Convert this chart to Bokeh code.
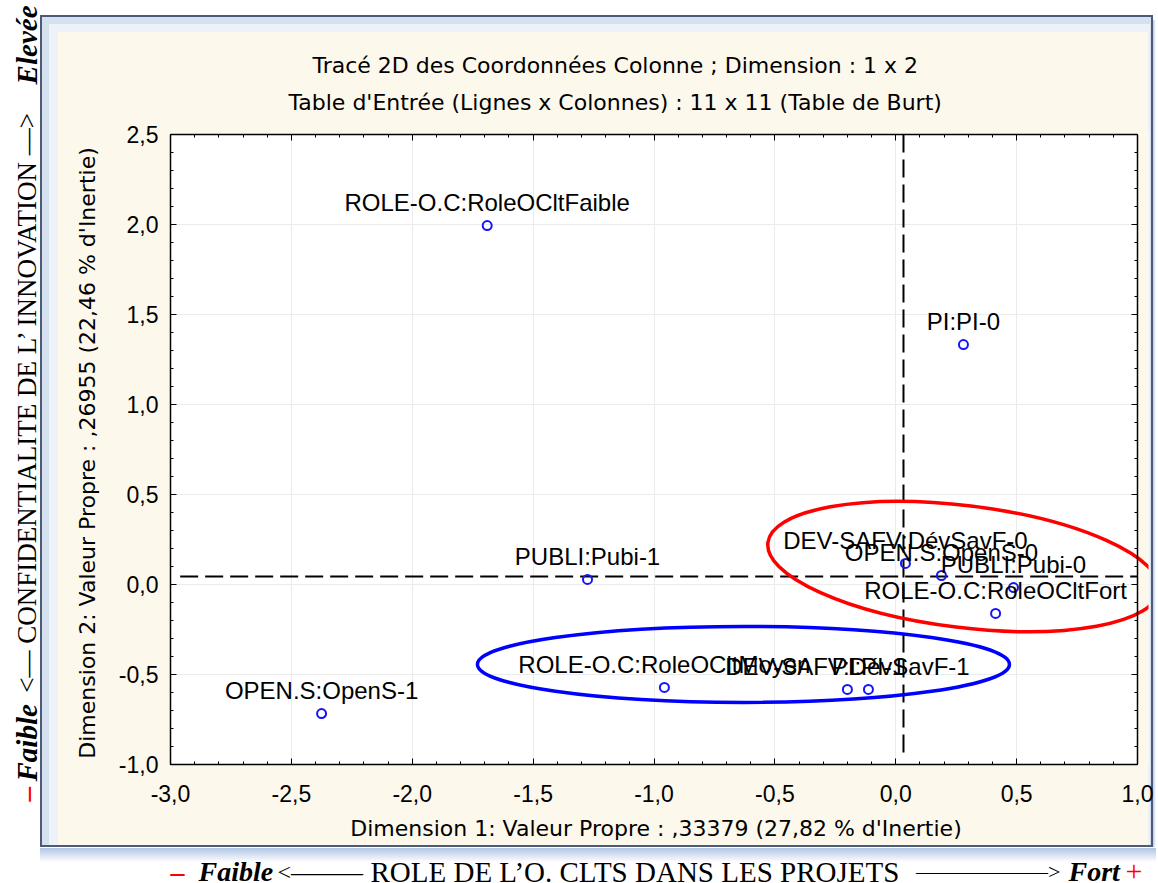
import math
from bokeh.plotting import figure
from bokeh.models import (Range1d, LinearAxis, SingleIntervalTicker, FixedTicker,
                          CustomJSTickFormatter, Title, BoxAnnotation)
from bokeh.layouts import column, row
from bokeh.core.properties import value
from bokeh.embed import file_html
from bokeh.resources import INLINE

# ---------------- data ----------------
categories = ["ROLE-O.C:RoleOCltFaible", "PI:PI-0", "PUBLI:Pubi-1", "OPEN.S:OpenS-1",
              "ROLE-O.C:RoleOCltMoyen", "DEV-SAFV:DévSavF-1", "PI:PI-1",
              "DEV-SAFV:DévSavF-0", "OPEN.S:OpenS-0", "PUBLI:Pubi-0",
              "ROLE-O.C:RoleOCltFort"]
dim1 = [-1.690, 0.280, -1.275, -2.375, -0.957, -0.200, -0.113, 0.040, 0.189, 0.487, 0.413]
dim2 = [1.994, 1.333, 0.028, -0.717, -0.572, -0.583, -0.583, 0.117, 0.050, -0.017, -0.161]

# reference (dashed) lines
h_line_y = 0.044
h_line_x = [-2.96, 1.0]
v_line_x = 0.032
v_line_y = [2.5, -0.967]

# highlighted groups (ellipse centres, data units)
red_group = (0.280, 0.100)
blue_group = (-0.630, -0.444)

title1 = "Tracé 2D des Coordonnées Colonne ; Dimension :  1 x  2"
title2 = "Table d'Entrée (Lignes x Colonnes) : 11 x 11 (Table de Burt)"
xlab = "Dimension 1: Valeur Propre : ,33379 (27,82  % d'Inertie)"
ylab = "Dimension 2: Valeur Propre : ,26955 (22,46  % d'Inertie)"

SANS = "Liberation Sans"
WIDE = "DejaVu Sans"
SERIF = "Liberation Serif"
CREAM = "#fdf8ec"

# ---------------- main figure ----------------
main_css = ", ".join([
    f"linear-gradient({CREAM},{CREAM}) 20px 32px / 1090px 813px no-repeat",
    "linear-gradient(#edf2f9,#edf2f9) 11px 24px / 1101px 821px no-repeat",
    "linear-gradient(#d6e1ef,#d6e1ef) 4px 17px / 1109px 828px no-repeat",
    "linear-gradient(#4d5b76,#4d5b76) 2px 15px / 1113px 832px no-repeat",
    "linear-gradient(to right, rgba(110,150,205,0.5), rgba(255,255,255,0)) 1115px 20px / 3px 827px no-repeat",
])

p = figure(width=1118, height=848, x_range=Range1d(-3, 1.0455), y_range=Range1d(-1, 2.5),
           output_backend="svg", toolbar_location=None, title_location=None, frame_align=False,
           min_border_left=132, min_border_right=8, min_border_top=134, min_border_bottom=84,
           border_fill_color=None, background_fill_color="white", outline_line_color=None,
           styles={"background": main_css})

fmt = CustomJSTickFormatter(code="return tick.toFixed(1).replace('.', ',');")
blank = CustomJSTickFormatter(code="return '';")
xt = SingleIntervalTicker(interval=0.5, num_minor_ticks=5)
yt = SingleIntervalTicker(interval=0.5, num_minor_ticks=5)


def style_ticks(ax):
    ax.major_tick_in = 6
    ax.major_tick_out = 0
    ax.minor_tick_in = 3
    ax.minor_tick_out = 0
    ax.axis_line_width = 1.5
    ax.axis_line_color = "black"
    ax.major_tick_line_color = "black"
    ax.minor_tick_line_color = "black"


xa = p.xaxis[0]
xa.ticker = xt
xa.formatter = fmt
xa.bounds = (-3, 1)
style_ticks(xa)
xa.major_label_standoff = 20
xa.major_label_text_font = SANS
xa.major_label_text_font_size = "23px"
xa.major_label_text_color = "black"
xa.axis_label = xlab
xa.axis_label_text_font = WIDE
xa.axis_label_text_font_size = "22px"
xa.axis_label_text_font_style = "normal"
xa.axis_label_text_color = "black"
xa.axis_label_standoff = 11

ya = p.yaxis[0]
ya.ticker = yt
ya.formatter = fmt
style_ticks(ya)
ya.major_label_standoff = 12
ya.major_label_text_font = SANS
ya.major_label_text_font_size = "23px"
ya.major_label_text_color = "black"
ya.axis_label = ylab
ya.axis_label_text_font = WIDE
ya.axis_label_text_font_size = "22px"
ya.axis_label_text_font_style = "normal"
ya.axis_label_text_color = "black"
ya.axis_label_standoff = 16

p.xgrid.ticker = xt
p.ygrid.ticker = yt
p.grid.grid_line_color = "#ebebeb"
p.grid.grid_line_width = 1

top_ax = LinearAxis(ticker=xt, formatter=blank, bounds=(-3, 1),
                    major_label_text_font_size="0px", major_label_standoff=0)
style_ticks(top_ax)
p.add_layout(top_ax, "above")

right_ax = LinearAxis(ticker=yt, formatter=blank, fixed_location=1.0,
                      major_label_text_font_size="0px", major_label_standoff=0)
style_ticks(right_ax)
p.add_layout(right_ax, "right")

# titles (first added is nearest the frame)
p.add_layout(Title(text=title2, align="left", offset=118, standoff=39, text_font=WIDE,
                   text_font_size="22px", text_font_style="normal", text_color="black"), "above")
p.add_layout(Title(text=title1, align="left", offset=142, standoff=-18, text_font=WIDE,
                   text_font_size="22px", text_font_style="normal", text_color="black"), "above")

# outside tick marks at the reference-line positions
tick_top = LinearAxis(ticker=FixedTicker(ticks=[v_line_x]), formatter=blank, fixed_location=2.5,
                      major_tick_out=12, major_tick_in=0, major_tick_line_width=2,
                      axis_line_color=None, major_label_text_font_size="0px", major_label_standoff=0)
p.add_layout(tick_top, "above")
tick_left = LinearAxis(ticker=FixedTicker(ticks=[h_line_y]), formatter=blank, fixed_location=-3.0,
                       major_tick_out=10, major_tick_in=0, major_tick_line_width=2,
                       axis_line_color=None, major_label_text_font_size="0px", major_label_standoff=0)
p.add_layout(tick_left, "left")

# cream strip to the right of x = 1.0 inside the frame
p.add_layout(BoxAnnotation(left=1.0, fill_color=CREAM, fill_alpha=1, line_alpha=0, level="underlay"))

# dashed reference lines
p.segment(x0=[h_line_x[0]], y0=[h_line_y], x1=[h_line_x[1]], y1=[h_line_y],
          line_color="black", line_width=2, line_dash="18 7")
p.segment(x0=[v_line_x], y0=[v_line_y[0]], x1=[v_line_x], y1=[v_line_y[1]],
          line_color="black", line_width=2, line_dash="18 7")

# points + labels
p.scatter(x=dim1, y=dim2, marker="circle", size=9, fill_color=None,
          line_color="#1414ff", line_width=2)
p.text(x=dim1, y=dim2, text=categories, y_offset=-23, text_align="center",
       text_baseline="middle", text_font=value(SANS), text_font_size="24px", text_color="black")

# highlight ellipses
p.ellipse(x=[red_group[0]], y=[red_group[1]], width=394, height=122, angle=-0.122,
          width_units="screen", height_units="screen", fill_color=None,
          line_color="#ff0000", line_width=3.5)
p.ellipse(x=[blue_group[0]], y=[blue_group[1]], width=532, height=76, angle=0.0,
          width_units="screen", height_units="screen", fill_color=None,
          line_color="#0000ff", line_width=3.5)

# ---------------- left vertical caption ----------------
lf = figure(width=38, height=848, x_range=Range1d(0, 38), y_range=Range1d(848, 0),
            output_backend="svg", toolbar_location=None, title_location=None, min_border=0,
            frame_align=False, x_axis_type=None, y_axis_type=None, outline_line_color=None,
            border_fill_color=None, background_fill_color=None)
lf.grid.visible = False
left_pieces = [  # (text, y anchor, align, style, size, colour)
    ("–", 801, "left", "bold", "29px", "#ff0000"),
    ("Faible", 781, "left", "bold italic", "29px", "black"),
    ("<–– CONFIDENTIALITE DE L’  INNOVATION ––>", 398, "center", "normal", "27px", "black"),
    ("Elevée", 5, "right", "bold italic", "29px", "black"),
]
for txt, y0, al, st, sz, col in left_pieces:
    lf.text(x=[26], y=[y0], text=[txt], angle=math.pi / 2, text_align=al,
            text_baseline="alphabetic", text_font=value(SERIF), text_font_style=st,
            text_font_size=sz, text_color=col)

# ---------------- bottom caption ----------------
bf = figure(width=1156, height=35, x_range=Range1d(0, 1156), y_range=Range1d(35, 0),
            output_backend="svg", toolbar_location=None, title_location=None, min_border=0,
            frame_align=False, x_axis_type=None, y_axis_type=None, outline_line_color=None,
            border_fill_color=None, background_fill_color=None,
            styles={"background": "linear-gradient(to bottom, rgba(110,150,205,0.55), "
                                  "rgba(255,255,255,0)) 40px 0px / 1116px 14px no-repeat"})
bf.grid.visible = False
bottom_pieces = [  # (text, x, align, style, size, colour)
    ("–", 170, "left", "bold", "28px", "#ff0000"),
    ("Faible", 198, "left", "bold italic", "28px", "black"),
    ("<––––––", 277, "left", "normal", "24px", "black"),
    ("ROLE  DE L’O. CLTS DANS LES PROJETS", 638, "center", "normal", "29px", "black"),
    ("——————>", 1060, "right", "normal", "22px", "black"),
    ("Fort", 1068, "left", "bold italic", "28px", "black"),
    ("+", 1125, "left", "normal", "30px", "#ff0000"),
]
for txt, x0, al, st, sz, col in bottom_pieces:
    bf.text(x=[x0], y=[23], text=[txt], text_align=al, text_baseline="alphabetic",
            text_font=value(SERIF), text_font_style=st, text_font_size=sz, text_color=col)

layout = column(row(lf, p), bf)
open("out.html", "w").write(file_html(layout, INLINE))
